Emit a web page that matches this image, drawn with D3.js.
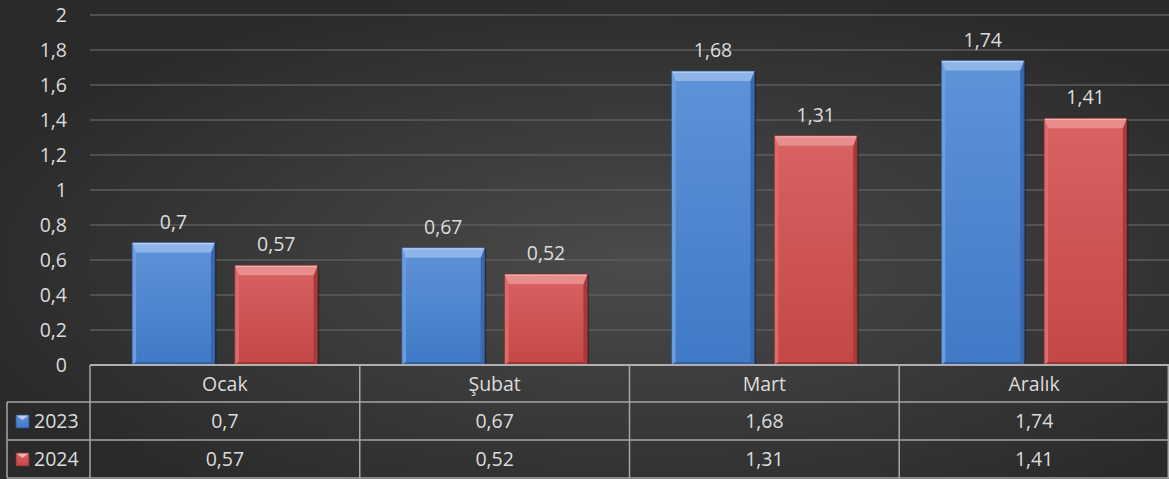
<!DOCTYPE html>
<html><head><meta charset="utf-8">
<script src="https://cdn.jsdelivr.net/npm/d3@7/dist/d3.min.js"></script>
<style>html,body{margin:0;padding:0;background:#333;}svg{display:block;}</style>
</head><body>
<svg id="c" width="1169" height="479"></svg>
<script>
const categories = ["Ocak", "Şubat", "Mart", "Aralık"];
const seriesNames = ["2023", "2024"];
const values2023 = [0.7, 0.67, 1.68, 1.74];
const values2024 = [0.57, 0.52, 1.31, 1.41];
const yTicks = [0, 0.2, 0.4, 0.6, 0.8, 1, 1.2, 1.4, 1.6, 1.8, 2];

(function () {
const W = 1169, H = 479;
const pLeft = 90, pRight = 1169, pTop = 15, pBottom = 365;
const svg = d3.select("#c");
const font = "'Open Sans', 'Noto Sans', sans-serif";
const fs = 19.5;
const txtC = "#dcdcdc";
const fmt = v => String(v).replace(".", ",");

const defs = svg.append("defs");
const bg = defs.append("radialGradient").attr("id", "bg")
  .attr("cx", "55%").attr("cy", "55%").attr("r", "60%")
  .attr("gradientUnits", "objectBoundingBox");
bg.append("stop").attr("offset", "0%").attr("stop-color", "#4b4b4b");
bg.append("stop").attr("offset", "100%").attr("stop-color", "#2a2a2a");
svg.append("rect").attr("width", W).attr("height", H).attr("fill", "url(#bg)");

const palettes = [
  {base0: "#5f93d8", base1: "#4079c6", topc: "#8fb4e9", edge: "#b7d0f4", leftc: "#6a9cde", rightc: "#3868b0", bottomc: "#3160a4", stroke: "#2a4f85"},
  {base0: "#d86262", base1: "#c44747", topc: "#e98c8c", edge: "#f4b3b3", leftc: "#dc6c6c", rightc: "#aa3a3a", bottomc: "#9d3434", stroke: "#7e2a2a"}
];
palettes.forEach((p, i) => {
  const g = defs.append("linearGradient").attr("id", "bar" + i).attr("x1", 0).attr("y1", 0).attr("x2", 0).attr("y2", 1);
  g.append("stop").attr("offset", "0%").attr("stop-color", p.base0);
  g.append("stop").attr("offset", "100%").attr("stop-color", p.base1);
});

const y = d3.scaleLinear().domain([0, 2]).range([pBottom, pTop]);
const x0 = d3.scaleBand().domain(categories).range([pLeft, pRight]).paddingInner(0).paddingOuter(0);
const x1 = d3.scaleBand().domain(seriesNames).range([0, x0.bandwidth()]).paddingInner(0.194).paddingOuter(0.41);

svg.append("g").selectAll("line").data(yTicks.filter(t => t > 0)).join("line")
  .attr("x1", pLeft).attr("x2", pRight)
  .attr("y1", d => y(d)).attr("y2", d => y(d))
  .attr("stroke", "#5c5c5c").attr("stroke-width", 1.5);

svg.append("g").selectAll("text").data(yTicks).join("text")
  .attr("x", 67).attr("y", d => y(d)).attr("dy", "0.36em")
  .attr("text-anchor", "end").attr("font-family", font).attr("font-size", fs)
  .attr("fill", txtC).text(d => fmt(d));

function bevelBar(g, bx, by, bw, bh, p, i) {
  const bt = Math.min(10, bh / 2), bs = 4, bb = 3;
  g.append("rect").attr("x", bx + 1.5).attr("y", by + 1).attr("width", bw).attr("height", bh - 1)
    .attr("fill", "rgba(0,0,0,0.35)");
  g.append("rect").attr("x", bx).attr("y", by).attr("width", bw).attr("height", bh).attr("fill", `url(#bar${i})`);
  const poly = (pts, fill) => g.append("polygon").attr("points", pts.map(q => q.join(",")).join(" ")).attr("fill", fill);
  poly([[bx, by], [bx + bs, by + bt], [bx + bs, by + bh - bb], [bx, by + bh]], p.leftc);
  poly([[bx + bw, by], [bx + bw - bs, by + bt], [bx + bw - bs, by + bh - bb], [bx + bw, by + bh]], p.rightc);
  poly([[bx, by + bh], [bx + bs, by + bh - bb], [bx + bw - bs, by + bh - bb], [bx + bw, by + bh]], p.bottomc);
  poly([[bx, by], [bx + bw, by], [bx + bw - bs, by + bt], [bx + bs, by + bt]], p.topc);
  g.append("line").attr("x1", bx + 1).attr("x2", bx + bw - 1).attr("y1", by + 1).attr("y2", by + 1)
    .attr("stroke", p.edge).attr("stroke-width", 1.5);
  g.append("rect").attr("x", bx).attr("y", by).attr("width", bw).attr("height", bh)
    .attr("fill", "none").attr("stroke", p.stroke).attr("stroke-width", 0.8).attr("stroke-opacity", 0.8);
}

const series = [values2023, values2024];
const barsG = svg.append("g");
categories.forEach((c, ci) => {
  series.forEach((vals, si) => {
    const bx = x0(c) + x1(seriesNames[si]);
    const by = y(vals[ci]);
    const bw = x1.bandwidth();
    const bh = y(0) - by;
    bevelBar(barsG, bx, by, bw, bh, palettes[si], si);
    barsG.append("text").attr("x", bx + bw / 2).attr("y", by - 14)
      .attr("text-anchor", "middle").attr("font-family", font).attr("font-size", fs)
      .attr("fill", txtC).text(fmt(vals[ci]));
  });
});

const tableG = svg.append("g");
const rowY = [365, 402, 440, 478];
const legLeft = 7;
const lineC = "#a6a6a6";
tableG.append("line").attr("x1", pLeft).attr("x2", pRight).attr("y1", rowY[0]).attr("y2", rowY[0]).attr("stroke", "#b0b0b0").attr("stroke-width", 2);
[1, 2, 3].forEach(r => {
  tableG.append("line").attr("x1", legLeft).attr("x2", pRight).attr("y1", rowY[r]).attr("y2", rowY[r]).attr("stroke", lineC).attr("stroke-width", 1.5);
});
tableG.append("line").attr("x1", legLeft).attr("x2", legLeft).attr("y1", rowY[1]).attr("y2", rowY[3]).attr("stroke", lineC).attr("stroke-width", 1.5);
categories.forEach(c => {
  tableG.append("line").attr("x1", x0(c)).attr("x2", x0(c)).attr("y1", rowY[0]).attr("y2", rowY[3]).attr("stroke", lineC).attr("stroke-width", 1.5);
});
tableG.append("line").attr("x1", pRight - 0.75).attr("x2", pRight - 0.75).attr("y1", rowY[0]).attr("y2", rowY[3]).attr("stroke", lineC).attr("stroke-width", 1.5);

tableG.selectAll("text.h").data(categories).join("text").attr("class", "h")
  .attr("x", d => x0(d) + x0.bandwidth() / 2).attr("y", (rowY[0] + rowY[1]) / 2).attr("dy", "0.36em")
  .attr("text-anchor", "middle").attr("font-family", font).attr("font-size", fs).attr("fill", txtC).text(d => d);

series.forEach((vals, si) => {
  const cy = (rowY[si + 1] + rowY[si + 2]) / 2;
  tableG.selectAll("text.r" + si).data(vals).join("text").attr("class", "r" + si)
    .attr("x", (d, i) => x0(categories[i]) + x0.bandwidth() / 2).attr("y", cy).attr("dy", "0.36em")
    .attr("text-anchor", "middle").attr("font-family", font).attr("font-size", fs).attr("fill", txtC).text(d => fmt(d));
  const kx = 16, ky = cy - 6, ks = 13;
  const p = palettes[si];
  const kg = tableG.append("g");
  kg.append("rect").attr("x", kx).attr("y", ky).attr("width", ks).attr("height", ks).attr("fill", `url(#bar${si})`);
  kg.append("polygon").attr("points", `${kx},${ky} ${kx + ks},${ky} ${kx + ks / 2},${ky + 5}`).attr("fill", p.edge);
  kg.append("rect").attr("x", kx).attr("y", ky).attr("width", ks).attr("height", ks).attr("fill", "none").attr("stroke", p.stroke).attr("stroke-width", 0.8);
  tableG.append("text").attr("x", 34).attr("y", cy).attr("dy", "0.36em")
    .attr("font-family", font).attr("font-size", fs).attr("fill", txtC).text(seriesNames[si]);
});
})();
</script>
</body></html>
